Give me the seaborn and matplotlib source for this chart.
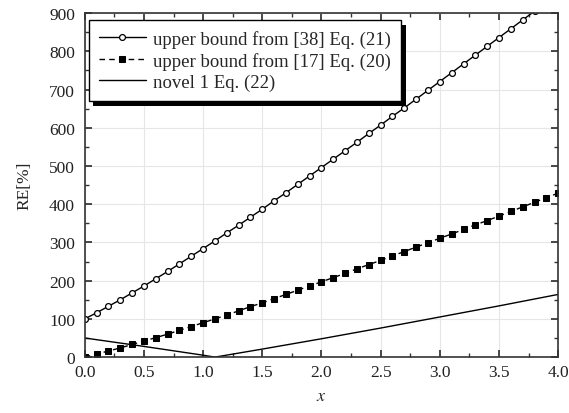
import numpy as np
import pandas as pd
import seaborn as sns
import matplotlib.pyplot as plt
from matplotlib.patches import Rectangle
from matplotlib.ticker import MultipleLocator

# data
x_marks = [round(0.1 * i, 1) for i in range(41)]
bound_38 = [100, 116, 133, 150, 168, 186, 205, 224, 244, 264,
            284, 304, 325, 345, 366, 387, 409, 430, 452, 474,
            496, 518, 540, 562, 585, 607, 630, 652, 675, 698,
            721, 744, 767, 790, 813, 836, 859, 882, 905, 928, 951]
bound_17 = [0, 8, 16, 24, 33, 42, 51, 60, 70, 80,
            90, 100, 110, 121, 132, 142, 153, 164, 175, 186,
            197, 208, 219, 231, 242, 253, 265, 276, 288, 299,
            311, 322, 334, 346, 357, 369, 381, 393, 405, 417, 429]
novel_x = [0.0, 0.5, 1.0, 1.1, 1.5, 2.0, 2.5, 3.0, 3.5, 4.0]
novel_1 = [50, 28, 5, 0, 21, 48, 76, 105, 134, 164]

labels = ["upper bound from [38] Eq. (21)",
          "upper bound from [17] Eq. (20)",
          "novel 1 Eq. (22)"]

sns.set_theme(style="ticks")
plt.rcParams['font.family'] = ['Liberation Serif', 'DejaVu Serif']
plt.rcParams['mathtext.fontset'] = 'stix'

fig = plt.figure(figsize=(5.69, 4.14), dpi=100)
ax = fig.add_axes([0.149, 0.135, 0.832, 0.831])

df_a = pd.DataFrame({"x": x_marks, "y": bound_38})
df_b = pd.DataFrame({"x": x_marks, "y": bound_17})
df_c = pd.DataFrame({"x": novel_x, "y": novel_1})

sns.lineplot(data=df_a, x="x", y="y", ax=ax, color="black", lw=1.0,
             marker="o", markersize=4.2, markerfacecolor="white",
             markeredgecolor="black", markeredgewidth=0.9, label=labels[0])
sns.lineplot(data=df_b, x="x", y="y", ax=ax, color="black", lw=1.0,
             linestyle=(0, (4, 3)), marker="s", markersize=4.2,
             markerfacecolor="black", markeredgecolor="black", label=labels[1])
sns.lineplot(data=df_c, x="x", y="y", ax=ax, color="black", lw=1.0,
             label=labels[2])

ax.set_xlim(0, 4.0)
ax.set_ylim(0, 900)
ax.xaxis.set_major_locator(MultipleLocator(0.5))
ax.xaxis.set_minor_locator(MultipleLocator(0.25))
ax.yaxis.set_major_locator(MultipleLocator(100))
ax.yaxis.set_minor_locator(MultipleLocator(50))
ax.grid(True, which="major", color="#e6e6e6", lw=0.8)
ax.tick_params(which="both", direction="in", top=True, right=True,
               color="#333333", labelsize=12.5, labelcolor="#222222")
ax.tick_params(axis="y", which="major", length=5, pad=7)
ax.tick_params(axis="x", which="major", length=5, pad=5)
ax.tick_params(which="minor", length=3)
for s in ax.spines.values():
    s.set_color("#333333")
    s.set_linewidth(1.2)

ax.set_xlabel("$x$", fontsize=13, labelpad=5)
ax.set_ylabel("RE[%]", fontsize=12.5, labelpad=12)

leg = ax.legend(loc="upper left", bbox_to_anchor=(0.0, 0.992), fontsize=13.5,
                frameon=True, fancybox=False, edgecolor="black",
                framealpha=1, handlelength=2.5, borderaxespad=0.2,
                labelspacing=0.2, handletextpad=0.4, borderpad=0.55)
leg.get_frame().set_linewidth(1.0)
leg.set_zorder(6)

# black drop shadow behind the legend box
fig.canvas.draw()
bb = leg.get_window_extent().transformed(fig.transFigure.inverted())
dx, dy = 4.5 / 569, 5 / 414
ax.add_patch(Rectangle((bb.x0 + dx, bb.y0 - dy), bb.width, bb.height,
                       transform=fig.transFigure, facecolor="black",
                       edgecolor="none", zorder=5, clip_on=False))

fig.savefig("out.png", dpi=100)
